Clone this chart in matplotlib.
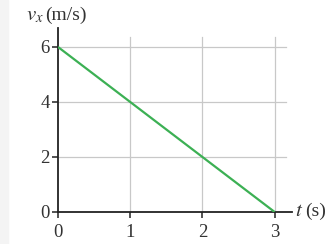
import matplotlib
matplotlib.use("Agg")
import matplotlib.pyplot as plt
from matplotlib.patches import Rectangle

t_values = [0, 3]
vx_values = [6, 0]
xticks = [0, 1, 2, 3]
yticks = [0, 2, 4, 6]

plt.rcParams['font.family'] = ['Liberation Serif', 'DejaVu Serif']
plt.rcParams['mathtext.fontset'] = 'stix'
fig = plt.figure(figsize=(3.30, 2.44), dpi=100)
fig.patches.append(Rectangle((0, 0), 8/330, 1, transform=fig.transFigure,
                             color='#f4f4f4', zorder=-10))
ax = fig.add_axes([58/330, 1-212/244, (292-58)/330, (212-28)/244])
ax.set_xlim(0, 3.24)
ax.set_ylim(0, 6.69)
ax.patch.set_alpha(0)

for x in xticks[1:]:
    ax.plot([x, x], [0, 6.35], color='#c8c8c8', lw=0.9, zorder=1)
for y in yticks[1:]:
    ax.plot([0, 3.15], [y, y], color='#c8c8c8', lw=0.9, zorder=1)

ax.plot(t_values, vx_values, color='#3cb054', lw=1.6, zorder=3,
        solid_capstyle='butt')

for s in ['top', 'right']:
    ax.spines[s].set_visible(False)
for s in ['left', 'bottom']:
    ax.spines[s].set_color('#222222')
    ax.spines[s].set_linewidth(1.3)

ax.set_xticks(xticks)
ax.set_yticks(yticks)
ax.set_xticklabels([str(v) for v in xticks])
ax.set_yticklabels([str(v) for v in yticks])
ax.tick_params(axis='both', direction='out', length=4, width=1.1,
               color='#222222', labelsize=13.5, labelcolor='#333333', pad=2)
ax.tick_params(axis='x', pad=4.5)

fig.text(26/330, 1-16/244, r'$v_x$', fontsize=15, color='#333333',
         va='center', ha='left')
fig.text(45.5/330, 1-15/244, '(m/s)', fontsize=14, color='#333333',
         va='center', ha='left')
fig.text(295/330, 1-211/244, r'$t$', fontsize=15, color='#333333',
         va='center', ha='left')
fig.text(305/330, 1-211/244, '(s)', fontsize=14, color='#333333',
         va='center', ha='left')

fig.savefig('out.png', dpi=100)
